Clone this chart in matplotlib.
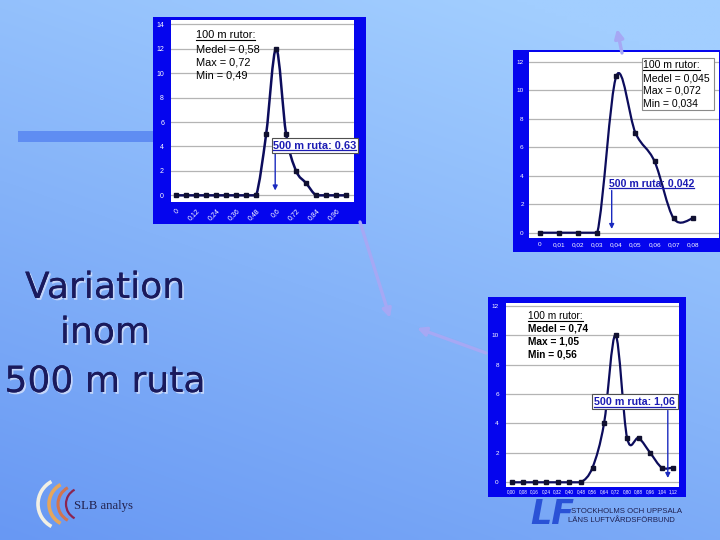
import numpy as np
import matplotlib
matplotlib.use('Agg')
import matplotlib.pyplot as plt
from matplotlib.path import Path
from matplotlib.patches import PathPatch, Rectangle, FancyArrowPatch, Arc
from matplotlib.lines import Line2D
import matplotlib.patheffects as pe

W, H = 720, 540

# ---------------- data ----------------
c1_cats = ['0', '0,06', '0,12', '0,18', '0,24', '0,3', '0,36', '0,42', '0,48',
           '0,54', '0,6', '0,66', '0,72', '0,78', '0,84', '0,9', '0,96', '1,02']
c1_vals = [0, 0, 0, 0, 0, 0, 0, 0, 0, 5, 12, 5, 2, 1, 0, 0, 0, 0]
c1_stats = ['100 m rutor:', 'Medel = 0,58', 'Max = 0,72', 'Min = 0,49']
c1_ruta = '500 m ruta: 0,63'

c2_cats = ['0', '0,01', '0,02', '0,03', '0,04', '0,05', '0,06', '0,07', '0,08']
c2_vals = [0, 0, 0, 0, 11, 7, 5, 1, 1]
c2_stats = ['100 m rutor:', 'Medel = 0,045', 'Max = 0,072', 'Min = 0,034']
c2_ruta = '500 m ruta: 0,042'

c3_cats = ['0,00', '0,08', '0,16', '0,24', '0,32', '0,40', '0,48', '0,56',
           '0,64', '0,72', '0,80', '0,88', '0,96', '1,04', '1,12']
c3_vals = [0, 0, 0, 0, 0, 0, 0, 1, 4, 10, 3, 3, 2, 1, 1]
c3_stats = ['100 m rutor:', 'Medel = 0,74', 'Max = 1,05', 'Min = 0,56']
c3_ruta = '500 m ruta: 1,06'

title_lines = ['Variation', 'inom', '500 m ruta']

# ---------------- figure ----------------
fig = plt.figure(figsize=(7.2, 5.4), dpi=100)

# background gradient
bg = fig.add_axes([0, 0, 1, 1], zorder=-10)
xx, yy = np.meshgrid(np.linspace(0, 1, 200), np.linspace(0, 1, 150))
t = np.clip(0.35 * xx + 0.75 * (1 - yy), 0, 1)[..., None]
c_dark = np.array([104, 152, 243]) / 255
c_light = np.array([162, 206, 255]) / 255
img = c_dark * (1 - t) + c_light * t
bg.imshow(img, extent=[0, W, H, 0], aspect='auto', interpolation='bilinear')
bg.set_xlim(0, W)
bg.set_ylim(H, 0)
bg.axis('off')

FRAME = '#0505EE'
# decorative bar
bg.add_patch(Rectangle((18, 131), 136, 11, color='#5F8DF2', lw=0))
for (x0, y0, x1, y1) in [(153, 17, 366, 224), (513, 50, 720, 252), (488, 297, 686, 497)]:
    bg.add_patch(Rectangle((x0, y0), x1 - x0, y1 - y0, color=FRAME, lw=0))


def px_axes(x0, y0, x1, y1, z=1):
    return fig.add_axes([x0 / W, 1 - y1 / H, (x1 - x0) / W, (y1 - y0) / H], zorder=z)


def smooth_path(xs, ys):
    pts = list(zip(xs, ys))
    n = len(pts)
    verts = [pts[0]]
    codes = [Path.MOVETO]
    for i in range(n - 1):
        p0 = pts[i - 1] if i > 0 else pts[i]
        p1 = pts[i]
        p2 = pts[i + 1]
        p3 = pts[i + 2] if i + 2 < n else pts[i + 1]
        c1 = (p1[0] + (p2[0] - p0[0]) / 6, max(0, p1[1] + (p2[1] - p0[1]) / 6))
        c2 = (p2[0] - (p3[0] - p1[0]) / 6, max(0, p2[1] - (p3[1] - p1[1]) / 6))
        verts += [c1, c2, p2]
        codes += [Path.CURVE4] * 3
    return Path(verts, codes)


LINE = '#0C0C5C'


def chart(box, cats, vals, xlim, ylim, ymax, every, xfs, yfs, rot, ms, lw, xpad, ypad):
    ax = px_axes(*box)
    ax.set_facecolor('white')
    for s in ax.spines.values():
        s.set_visible(False)
    x = np.arange(len(cats))
    ax.set_xlim(*xlim)
    ax.set_ylim(*ylim)
    ax.set_yticks(range(0, ymax + 1, 2))
    ax.set_yticklabels([str(v) for v in range(0, ymax + 1, 2)], fontsize=yfs,
                       color='white', family='Liberation Sans')
    ax.yaxis.grid(True, color='#B4B4B4', lw=0.9)
    ax.set_axisbelow(True)
    ax.set_xticks(x[::every])
    if rot:
        ax.set_xticklabels(cats[::every], rotation=45, ha='right', rotation_mode='anchor',
                           fontsize=xfs, color='white', family='Liberation Sans')
    else:
        ax.set_xticklabels(cats[::every], fontsize=xfs, color='white', family='Liberation Sans')
    ax.tick_params(length=0, axis='x', pad=xpad)
    ax.tick_params(length=0, axis='y', pad=ypad)
    ax.add_patch(PathPatch(smooth_path(x, vals), fill=False, color=LINE, lw=lw, zorder=3))
    ax.plot(x, vals, 's', ms=ms, color='#101030', zorder=4, clip_on=False)
    return ax


chart((171, 20, 354, 201.7), c1_cats, c1_vals, (-0.53, 17.8), (-0.52, 14.35), 14, 2,
      5, 5, True, 3.0, 1.8, 4, 5)
chart((529.3, 51.7, 719.3, 237.7), c2_cats, c2_vals, (-0.56, 9.39), (-0.35, 12.7), 12, 1,
      4.6, 4.6, False, 2.6, 1.6, 3, 4)
chart((505.7, 303.3, 679.3, 486.7), c3_cats, c3_vals, (-0.52, 14.52), (-0.3, 12.16), 12, 1,
      3.3, 4.6, False, 3.0, 1.6, 2, 5)

# ---------------- overlay ----------------
ov = fig.add_axes([0, 0, 1, 1], zorder=10)
ov.set_xlim(0, W)
ov.set_ylim(H, 0)
ov.axis('off')
ov.patch.set_alpha(0)

underline = []
RUTA = '#1C1CB4'

# chart 2 stats box
ov.add_patch(Rectangle((641.7, 58.3), 72.3, 51.7, facecolor='white', edgecolor='#8A8A8A', lw=0.8))


def stats(x, baselines, lines, bold_body=False, fs=7.6):
    for i, (b, s) in enumerate(zip(baselines, lines)):
        tt = ov.text(x, b, s, fontsize=fs, va='baseline', ha='left', color='black',
                     family='Liberation Sans', fontweight='bold' if (bold_body and i > 0) else 'normal')
        if i == 0:
            underline.append((tt, b + 1.6, 'black', 0.8))


stats(195.5, [38, 52, 65.3, 78.6], c1_stats, fs=7.9)
stats(643.3, [68, 81.3, 93.8, 106.3], c2_stats, fs=7.6)
stats(528.3, [319, 331.7, 344.3, 357.3], c3_stats, bold_body=True, fs=7.3)


def ruta(x, b, s, box, fs=7.0):
    tt = ov.text(x, b, s, fontsize=fs, va='baseline', ha='left', color=RUTA,
                 family='Liberation Sans', fontweight='bold')
    if box is not None:
        x0, y0, x1, y1 = box
        ov.add_patch(Rectangle((x0, y0), x1 - x0, y1 - y0, facecolor='white',
                               edgecolor='#505050', lw=0.8, zorder=1.5))
    underline.append((tt, b + 1.6, RUTA, 0.9))
    return tt


ruta(273.0, 148.6, c1_ruta, (271.7, 138.2, 358.2, 152.5), fs=7.9)
ruta(609.0, 186.3, c2_ruta, None, fs=7.6)
ruta(594.0, 405.0, c3_ruta, (592.2, 394.0, 678.3, 409.2), fs=7.7)


def blue_arrow(x, y0, y1):
    ov.add_patch(FancyArrowPatch((x, y0), (x, y1), arrowstyle='-|>', mutation_scale=7,
                                 color='#1A2ABF', lw=1.0, shrinkA=0, shrinkB=0))


blue_arrow(275.2, 153.5, 190.5)
blue_arrow(611.7, 190.5, 229.0)
blue_arrow(667.8, 410.5, 478.0)

# purple connector arrows
PURP = '#A6A8F4'
for (a, b) in [((360, 222), (390, 318)), ((486, 353), (417, 328)), ((622, 53), (617, 29))]:
    ov.add_patch(FancyArrowPatch(a, b, arrowstyle='-|>', mutation_scale=13, color=PURP,
                                 lw=2.4, shrinkA=0, shrinkB=0))

# left title
for s, b in zip(title_lines, [298, 343, 392]):
    ov.text(105, b, s, fontsize=26, ha='center', va='baseline', color='#1A1A5C',
            family='DejaVu Sans',
            path_effects=[pe.withSimplePatchShadow(offset=(1.3, -1.3), shadow_rgbFace='#C4D6FA', alpha=1.0),
                          pe.Normal()])

# SLB analys logo
for (r_x, col, lw, hh) in [(38, '#F2F0E4', 2.6, 22), (49, '#E6A65C', 2.6, 19),
                           (58, '#D2744E', 2.2, 16), (66, '#8C2450', 1.6, 14)]:
    r = hh / np.sin(np.radians(60))
    ov.add_patch(Arc((r_x + r, 504), 2 * r, 2 * r, theta1=118, theta2=242, color=col, lw=lw))
ov.text(73.5, 508.5, 'SLB analys', fontsize=9.2, family='Liberation Serif', color='#22224E',
        va='baseline', ha='left')

# LVF logo
ov.text(552, 524, 'LF', fontsize=24, family='DejaVu Sans', fontweight='bold', style='italic',
        color='#2A52D6', ha='center', va='baseline')
ov.text(571, 513, 'STOCKHOLMS OCH UPPSALA', fontsize=5.6, family='Liberation Sans',
        color='#1E2050', va='baseline', ha='left')
ov.text(568, 522, 'LÄNS LUFTVÅRDSFÖRBUND', fontsize=5.6, family='Liberation Sans',
        color='#1E2050', va='baseline', ha='left')

# underlines
fig.canvas.draw()
r = fig.canvas.get_renderer()
inv = ov.transData.inverted()
for tt, yb, col, lw in underline:
    bb = tt.get_window_extent(r)
    xa = inv.transform((bb.x0, bb.y0))[0]
    xb = inv.transform((bb.x1, bb.y0))[0]
    ov.add_line(Line2D([xa, xb], [yb, yb], color=col, lw=lw))

fig.savefig('out.png', dpi=100)
